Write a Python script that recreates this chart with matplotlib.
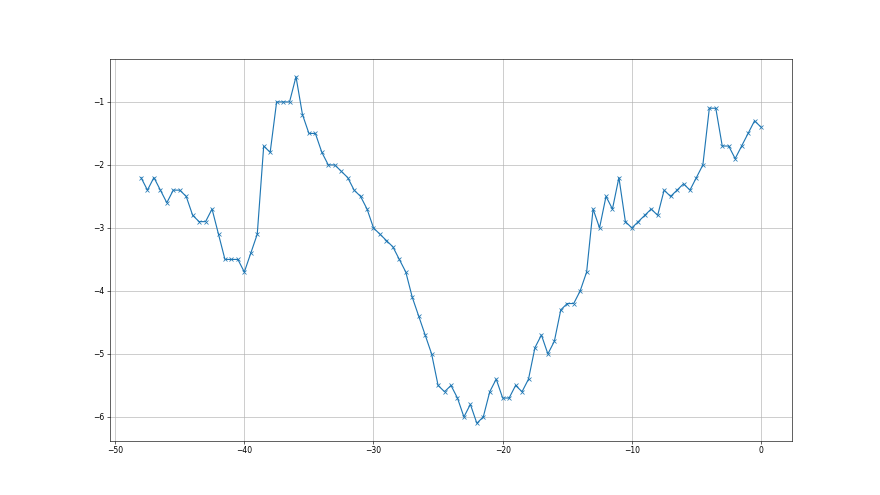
import numpy as np
import matplotlib
matplotlib.use("Agg")
import matplotlib.pyplot as plt

x_values = np.arange(-48, 0.01, 0.5)
y_values = [
    -2.2, -2.4, -2.2, -2.4, -2.6, -2.4, -2.4, -2.5, -2.8, -2.9,
    -2.9, -2.7, -3.1, -3.5, -3.5, -3.5, -3.7, -3.4, -3.1, -1.7,
    -1.8, -1.0, -1.0, -1.0, -0.6, -1.2, -1.5, -1.5, -1.8, -2.0,
    -2.0, -2.1, -2.2, -2.4, -2.5, -2.7, -3.0, -3.1, -3.2, -3.3,
    -3.5, -3.7, -4.1, -4.4, -4.7, -5.0, -5.5, -5.6, -5.5, -5.7,
    -6.0, -5.8, -6.1, -6.0, -5.6, -5.4, -5.7, -5.7, -5.5, -5.6,
    -5.4, -4.9, -4.7, -5.0, -4.8, -4.3, -4.2, -4.2, -4.0, -3.7,
    -2.7, -3.0, -2.5, -2.7, -2.2, -2.9, -3.0, -2.9, -2.8, -2.7,
    -2.8, -2.4, -2.5, -2.4, -2.3, -2.4, -2.2, -2.0, -1.1, -1.1,
    -1.7, -1.7, -1.9, -1.7, -1.5, -1.3, -1.4,
]

fig, ax = plt.subplots(figsize=(16, 9), dpi=55)
ax.plot(x_values, y_values, marker="x")
ax.grid(True)
fig.savefig("out.png", dpi=55)
